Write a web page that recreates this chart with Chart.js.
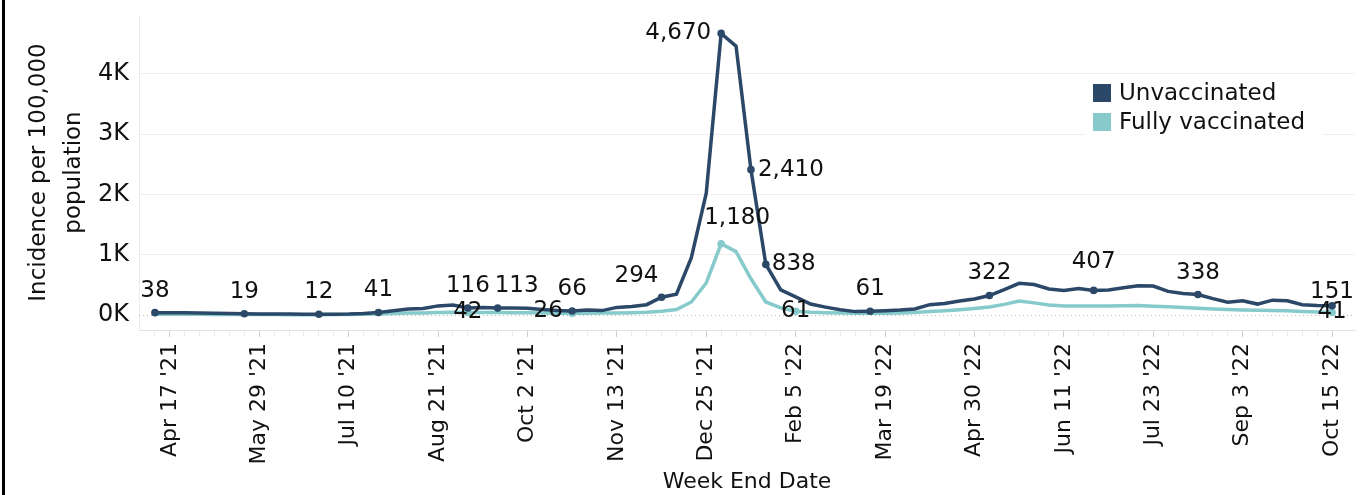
<!DOCTYPE html>
<html>
<head>
<meta charset="utf-8">
<script src="https://cdn.jsdelivr.net/npm/chart.js@4.4.1/dist/chart.umd.min.js"></script>
<style>
html,body{margin:0;padding:0;background:#fff;}
#wrap{width:1360px;height:495px;position:relative;}
</style>
</head>
<body>
<div id="wrap"><canvas id="grafico" width="1360" height="495"></canvas></div>
<script>

/* ---- dados ---- */

const semanas=[
"Apr 10 '21","Apr 17 '21","Apr 24 '21","May 1 '21","May 8 '21","May 15 '21","May 22 '21","May 29 '21",
"Jun 5 '21","Jun 12 '21","Jun 19 '21","Jun 26 '21","Jul 3 '21","Jul 10 '21","Jul 17 '21","Jul 24 '21",
"Jul 31 '21","Aug 7 '21","Aug 14 '21","Aug 21 '21","Aug 28 '21","Sep 4 '21","Sep 11 '21","Sep 18 '21",
"Sep 25 '21","Oct 2 '21","Oct 9 '21","Oct 16 '21","Oct 23 '21","Oct 30 '21","Nov 6 '21","Nov 13 '21",
"Nov 20 '21","Nov 27 '21","Dec 4 '21","Dec 11 '21","Dec 18 '21","Dec 25 '21","Jan 1 '22","Jan 8 '22",
"Jan 15 '22","Jan 22 '22","Jan 29 '22","Feb 5 '22","Feb 12 '22","Feb 19 '22","Feb 26 '22","Mar 5 '22",
"Mar 12 '22","Mar 19 '22","Mar 26 '22","Apr 2 '22","Apr 9 '22","Apr 16 '22","Apr 23 '22","Apr 30 '22",
"May 7 '22","May 14 '22","May 21 '22","May 28 '22","Jun 4 '22","Jun 11 '22","Jun 18 '22","Jun 25 '22",
"Jul 2 '22","Jul 9 '22","Jul 16 '22","Jul 23 '22","Jul 30 '22","Aug 6 '22","Aug 13 '22","Aug 20 '22",
"Aug 27 '22","Sep 3 '22","Sep 10 '22","Sep 17 '22","Sep 24 '22","Oct 1 '22","Oct 8 '22","Oct 15 '22"
];

const rotulosEixo=[
"Apr 17 '21","May 29 '21","Jul 10 '21","Aug 21 '21","Oct 2 '21","Nov 13 '21","Dec 25 '21",
"Feb 5 '22","Mar 19 '22","Apr 30 '22","Jun 11 '22","Jul 23 '22","Sep 3 '22","Oct 15 '22"
];

const naoVacinados=[
38,37,35,32,28,23,19,17,15,14,13,12,13,16,25,41,
70,100,108,150,165,116,125,113,114,112,90,72,66,82,72,125,
138,170,294,345,950,2020,4670,4460,2410,838,415,300,180,130,85,55,
61,70,80,100,170,190,230,265,322,420,525,505,430,405,440,407,
415,450,485,480,390,355,338,270,210,235,180,245,235,170,155,151
];

const vacinados=[
12,12,11,10,9,8,7,6,6,5,5,5,6,7,10,15,
22,30,34,40,45,42,41,40,38,36,32,28,26,28,30,33,
38,45,60,90,215,530,1180,1050,600,215,116,61,45,38,32,28,
26,28,33,42,55,70,85,105,130,175,230,200,165,150,148,150,
150,152,155,145,135,125,112,98,88,80,76,72,68,58,50,41
];

const marcadosNaoVac=[0,6,11,15,21,23,28,34,38,40,41,48,56,63,70,79];
const marcadosVac=[21,28,38,43,79];

const seriesNomes=["Unvaccinated","Fully vaccinated"];
const yTicks=[0,1000,2000,3000,4000];

/* ---- estilos ---- */

const COR_NV="#2b4868";
const COR_V="#86cacb";
const FONTE="'DejaVu Sans', sans-serif";

/* posicao dos rotulos (deslocamento em px) */
const posNV={
23:{dx:19,dy:-22},
34:{dx:-25,dy:-21},
38:{dx:-10,dy:0,align:"right"},
40:{dx:7,dy:0,align:"left"},
41:{dx:6,dy:0,align:"left"},
63:{dx:0,dy:-28},
79:{dx:0,dy:-14}
};
const posV={
28:{dx:-24,dy:-2},
38:{dx:16,dy:-26}
};

function raio(marcados){
return ctx=>marcados.includes(ctx.dataIndex)?3.8:0;
}

/* ---- plugins ---- */

const linhaZero={
id:"linhaZero",
beforeDatasetsDraw(chart){
const {ctx,chartArea,scales}=chart;
const y=Math.round(scales.y.getPixelForValue(0))+0.5;
ctx.save();
ctx.strokeStyle="#b8b8b8";
ctx.lineWidth=1;
ctx.setLineDash([1,3]);
ctx.beginPath();
ctx.moveTo(chartArea.left,y);
ctx.lineTo(chartArea.right,y);
ctx.stroke();
ctx.restore();
}
};

const rotulos={
id:"rotulos",
afterDatasetsDraw(chart){
const {ctx}=chart;
ctx.save();
ctx.font="23px "+FONTE;
ctx.fillStyle="#111";
ctx.textBaseline="middle";
const conf=[
{ds:0,marcados:marcadosNaoVac,pos:posNV,padrao:{dx:0,dy:-22}},
{ds:1,marcados:marcadosVac,pos:posV,padrao:{dx:0,dy:0}}
];
conf.forEach(c=>{
const meta=chart.getDatasetMeta(c.ds);
const dados=chart.data.datasets[c.ds].data;
c.marcados.forEach(i=>{
const p=meta.data[i];
const o=c.pos[i]||c.padrao;
ctx.textAlign=o.align||"center";
ctx.fillText(dados[i].y.toLocaleString("en-US"),p.x+o.dx,p.y+o.dy);
});
});
ctx.restore();
}
};

const legenda={
id:"legenda",
afterDraw(chart){
const {ctx}=chart;
ctx.save();
ctx.fillStyle="#fff";
ctx.fillRect(1086,78,236,60);
ctx.font="23px "+FONTE;
ctx.textBaseline="middle";
ctx.textAlign="left";
[COR_NV,COR_V].forEach((cor,k)=>{
const y=93+k*29;
ctx.fillStyle=cor;
ctx.fillRect(1093,y-9,18,18);
ctx.fillStyle="#111";
ctx.fillText(seriesNomes[k],1119,y+1);
});
/* borda esquerda */
ctx.fillStyle="#000";
ctx.fillRect(2,0,3,495);
ctx.restore();
}
};

/* ---- grafico ---- */

Chart.defaults.font.family=FONTE;
Chart.defaults.color="#111";

new Chart(document.getElementById("grafico"),{
type:"line",
data:{
datasets:[
{
label:seriesNomes[0],
data:naoVacinados.map((v,i)=>({x:i,y:v})),
borderColor:COR_NV,
backgroundColor:COR_NV,
borderWidth:3.5,
pointRadius:raio(marcadosNaoVac),
pointBorderWidth:0,
tension:0
},
{
label:seriesNomes[1],
data:vacinados.map((v,i)=>({x:i,y:v})),
borderColor:COR_V,
backgroundColor:COR_V,
borderWidth:3.5,
pointRadius:raio(marcadosVac),
pointBorderWidth:0,
tension:0
}
]
},
options:{
responsive:false,
animation:false,
events:[],
layout:{padding:{left:6,right:5,top:15,bottom:0}},
plugins:{legend:{display:false},tooltip:{enabled:false}},
scales:{
x:{
type:"linear",
min:-1.07,
max:80.54,
afterBuildTicks:s=>{s.ticks=semanas.map((_,i)=>({value:i}));},
afterFit:s=>{s.height=165;s.paddingLeft=0;s.paddingRight=0;},
ticks:{
autoSkip:false,
minRotation:90,
maxRotation:90,
padding:6,
font:{size:22},
callback:v=>rotulosEixo.includes(semanas[v])?semanas[v]:""
},
grid:{
drawOnChartArea:false,
tickLength:7,
tickColor:c=>rotulosEixo.includes(semanas[c.tick.value])?"#cfcfcf":"#ececec"
},
border:{display:true,color:"#e2e2e2"},
title:{
display:true,
text:"Week End Date",
font:{size:22},
padding:{top:0,bottom:0}
}
},
y:{
min:-250,
max:4975,
afterBuildTicks:s=>{s.ticks=yTicks.map(v=>({value:v}));},
afterFit:s=>{s.width=133;s.paddingTop=0;s.paddingBottom=0;},
ticks:{
padding:10,
font:{size:24},
callback:v=>(v/1000)+"K"
},
grid:{
drawTicks:false,
color:c=>c.tick&&c.tick.value===0?"rgba(0,0,0,0)":"#efefef"
},
border:{display:true,color:"#ececec"},
title:{
display:true,
text:["Incidence per 100,000","population"],
font:{size:23,lineHeight:1.52},
padding:{top:16,bottom:0}
}
}
}
},
plugins:[linhaZero,rotulos,legenda]
});

</script>
</body>
</html>
